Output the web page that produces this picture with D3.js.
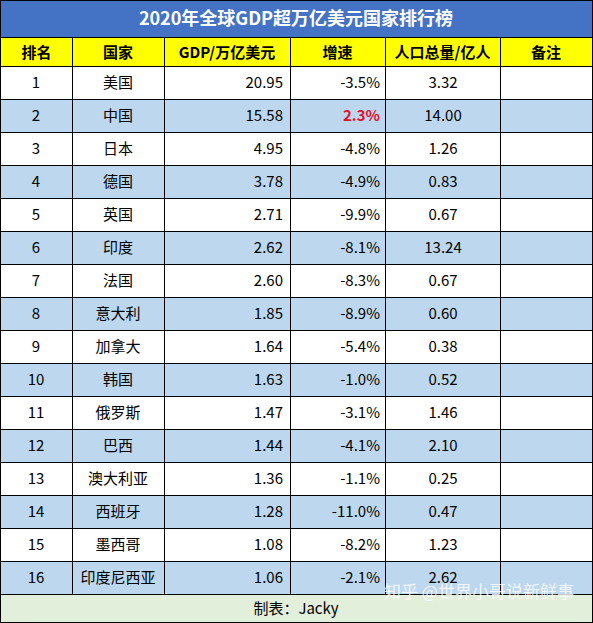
<!DOCTYPE html><html><head><meta charset="utf-8"><script src="https://cdn.jsdelivr.net/npm/d3@7"></script>
<style>body{margin:0;background:#fff}</style></head><body><svg id="c" width="593" height="623"></svg>
<script>
const title="2020年全球GDP超万亿美元国家排行榜";
const headers=["排名","国家","GDP/万亿美元","增速","人口总量/亿人","备注"];
const ranks=[1,2,3,4,5,6,7,8,9,10,11,12,13,14,15,16];
const countries=["美国","中国","日本","德国","英国","印度","法国","意大利","加拿大","韩国","俄罗斯","巴西","澳大利亚","西班牙","墨西哥","印度尼西亚"];
const gdp=[20.95,15.58,4.95,3.78,2.71,2.62,2.60,1.85,1.64,1.63,1.47,1.44,1.36,1.28,1.08,1.06];
const growth=[-3.5,2.3,-4.8,-4.9,-9.9,-8.1,-8.3,-8.9,-5.4,-1.0,-3.1,-4.1,-1.1,-11.0,-8.2,-2.1];
const population=[3.32,14.00,1.26,0.83,0.67,13.24,0.67,0.60,0.38,0.52,1.46,2.10,0.25,0.47,1.23,2.62];
const footer="制表：Jacky";
const watermark="知乎 @世界小哥说新鲜事";
const colEdges=[1,72,164,290,385,500,592];
const F="'Noto Sans CJK SC','Noto Sans',sans-serif";
const svg=d3.select("#c");
const y=d3.scaleLinear().domain([0,16]).range([66,594]);
svg.append("rect").attr("x",0).attr("y",0).attr("width",593).attr("height",37).attr("fill","#4472C4");
svg.append("text").attr("x",296).attr("y",25).attr("text-anchor","middle").attr("fill","#fff").attr("font-family",F).attr("font-weight","bold").attr("font-size",18).text(title);
svg.append("rect").attr("x",0).attr("y",37).attr("width",593).attr("height",29).attr("fill","#FFFF00");
headers.forEach((h,i)=>svg.append("text").attr("x",(colEdges[i]+colEdges[i+1])/2).attr("y",58).attr("text-anchor","middle").attr("font-family",F).attr("font-weight","bold").attr("font-size",15).attr("fill","#000").text(h));
ranks.forEach((r,i)=>{
  const y0=y(i),y1=y(i+1),cy=(y0+y1)/2+5.5;
  svg.append("rect").attr("x",0).attr("y",y0).attr("width",593).attr("height",y1-y0).attr("fill",i%2?"#BDD7EE":"#fff");
  const t=(x,s,anchor,opts={})=>svg.append("text").attr("x",x).attr("y",cy).attr("text-anchor",anchor).attr("font-family",F).attr("font-size",15).attr("fill",opts.fill||"#000").attr("font-weight",opts.bold?"bold":"normal").text(s);
  t(36,r,"middle");
  t(118,countries[i],"middle");
  t(283,gdp[i].toFixed(2),"end");
  const g=growth[i];
  t(380,g.toFixed(1)+"%","end",g>0?{fill:"#E0102A",bold:true}:{});
  t(443,population[i].toFixed(2),"middle");
});
svg.append("rect").attr("x",0).attr("y",594).attr("width",593).attr("height",29).attr("fill","#E2EFDA");
svg.append("text").attr("x",296).attr("y",614).attr("text-anchor","middle").attr("font-family",F).attr("font-size",15).text(footer);
const gl=svg.append("g").attr("stroke","#000").attr("stroke-width",1);
[37,66].concat(d3.range(1,17).map(y)).forEach(v=>gl.append("line").attr("x1",0).attr("x2",593).attr("y1",v+0.5).attr("y2",v+0.5));
colEdges.slice(1,-1).forEach(x=>gl.append("line").attr("x1",x+0.5).attr("x2",x+0.5).attr("y1",37).attr("y2",594));
gl.append("rect").attr("x",0.5).attr("y",0.5).attr("width",592).attr("height",622).attr("fill","none");
svg.append("text").attr("x",384).attr("y",598).attr("font-family",F).attr("font-size",17).attr("fill","#fff").attr("opacity",0.8).text(watermark);
</script></body></html>
